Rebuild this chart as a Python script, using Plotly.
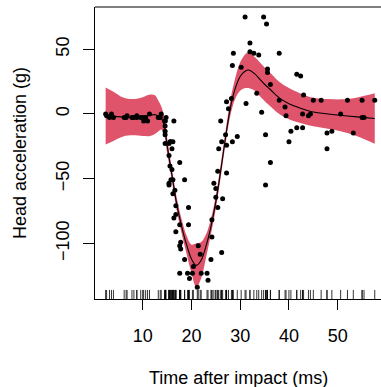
import plotly.graph_objects as go

times = [2.4, 2.6, 3.2, 3.6, 4.0, 6.2, 6.6, 6.8, 7.8, 8.2, 8.8, 8.8, 9.6, 10.0, 10.2, 10.6, 11.0, 11.4,
         13.2, 13.6, 13.8, 14.6, 14.6, 14.6, 14.6, 14.6, 14.6, 14.8, 15.4, 15.4, 15.4, 15.4, 15.6, 15.6,
         15.8, 15.8, 16.0, 16.0, 16.2, 16.2, 16.2, 16.4, 16.4, 16.6, 16.8, 16.8, 16.8, 17.6, 17.6, 17.6,
         17.6, 17.8, 17.8, 18.6, 18.6, 19.2, 19.4, 19.4, 19.6, 20.2, 20.4, 21.2, 21.4, 21.8, 22.0, 23.2,
         23.4, 24.0, 24.2, 24.2, 24.6, 25.0, 25.0, 25.4, 25.4, 25.6, 26.0, 26.2, 26.2, 26.4, 27.0, 27.2,
         27.2, 27.2, 27.6, 28.2, 28.4, 28.4, 28.6, 29.4, 30.2, 31.0, 31.2, 32.0, 32.0, 32.8, 33.4, 33.8,
         34.4, 34.8, 35.2, 35.2, 35.4, 35.6, 35.6, 36.2, 36.2, 38.0, 38.0, 39.2, 39.4, 40.0, 40.4, 41.6,
         41.6, 42.4, 42.8, 42.8, 43.0, 44.0, 44.4, 45.0, 46.6, 47.8, 47.8, 48.8, 50.6, 52.0, 53.2, 55.0,
         55.0, 55.4, 57.6]
accel = [0.0, -1.3, -2.7, 0.0, -2.7, -2.7, -2.7, -1.3, -2.7, -2.7, -1.3, -2.7, -2.7, -2.7, -5.4, -2.7,
         -5.4, 0.0, -2.7, -2.7, 0.0, -13.3, -5.4, -5.4, -9.3, -16.0, -22.8, -2.7, -22.8, -32.1, -53.5,
         -54.9, -40.2, -21.5, -21.5, -50.8, -42.9, -26.8, -21.5, -50.8, -61.7, -5.4, -80.4, -59.0, -71.0,
         -91.1, -77.7, -37.5, -85.6, -123.1, -101.9, -99.1, -104.4, -112.5, -50.8, -123.1, -85.6, -72.3,
         -127.2, -123.1, -117.9, -134.0, -101.9, -108.4, -123.1, -123.1, -128.5, -112.5, -95.1, -81.8,
         -53.5, -64.4, -57.6, -72.3, -44.3, -26.8, -5.4, -107.1, -21.5, -65.6, -16.0, -45.6, -24.2, 9.5,
         4.0, 12.0, -21.5, 37.5, 46.9, -17.4, 36.2, 75.0, 8.1, 54.9, 48.2, 46.9, 16.0, 45.6, 1.3, 75.0,
         -16.0, -54.9, 69.6, 34.8, 32.1, -37.5, 22.8, 46.9, 10.7, 5.4, -1.3, -21.5, -13.3, 30.8, -10.7,
         29.4, 0.0, -10.7, 14.7, -1.3, 0.0, 10.7, 10.7, -26.8, -14.7, -13.3, 0.0, 10.7, -14.7, -2.7, 10.7,
         -2.7, 10.7]

# Smooth fit and band half-width
fit_x = [2.4, 4.0, 6.0, 8.0, 10.0, 11.5, 12.5, 13.2, 13.8, 14.4, 15.0, 15.6, 16.2, 17.0, 18.0, 19.0,
         20.0, 21.0, 22.0, 23.0, 24.0, 25.0, 26.0, 27.0, 28.0, 29.0, 30.0, 31.0, 31.7, 33.0, 34.0, 35.0,
         36.0, 38.0, 40.0, 42.0, 45.0, 48.0, 51.0, 54.0, 57.6]
fit_y = [-1.5, -1.8, -2.3, -2.5, -2.0, -1.0, -0.5, -1.5, -3.0, -9.0, -24.0, -38.0, -52.0, -70.0, -87.0,
         -101.0, -112.0, -117.0, -113.0, -102.0, -87.0, -68.0, -44.0, -18.0, 5.0, 20.0, 29.0, 33.0, 34.0,
         31.0, 27.0, 23.0, 19.5, 12.5, 8.0, 5.0, 1.5, 0.0, -1.2, -2.2, -3.5]
half_w = [22, 19, 15, 14, 15, 16, 15, 12, 9, 7, 6, 5, 5, 5, 5.5, 7, 11, 17, 14, 9, 6, 5, 5, 5, 6, 8,
          11, 13, 14, 13, 13, 13, 13, 12.5, 12, 11.5, 11, 11.5, 12.5, 15, 19.5]

upper = [f + h for f, h in zip(fit_y, half_w)]
lower = [f - h for f, h in zip(fit_y, half_w)]

FONT = "Liberation Sans, Arial, Helvetica, sans-serif"
BAND = "#DF536B"

fig = go.Figure()
fig.add_trace(go.Scatter(x=fit_x, y=upper, mode="lines", line=dict(width=0, shape="spline"),
                         hoverinfo="skip", showlegend=False))
fig.add_trace(go.Scatter(x=fit_x, y=lower, mode="lines", line=dict(width=0, shape="spline"),
                         fill="tonexty", fillcolor=BAND, hoverinfo="skip", showlegend=False))
fig.add_trace(go.Scatter(x=times, y=accel, mode="markers",
                         marker=dict(color="black", size=5, line=dict(width=0)), showlegend=False))
fig.add_trace(go.Scatter(x=fit_x, y=fit_y, mode="lines", line=dict(color="black", width=1.1, shape="spline"),
                         showlegend=False))

shapes = []
for t in times:
    shapes.append(dict(type="line", xref="x", yref="y domain", x0=t, x1=t, y0=0, y1=0.031,
                       line=dict(color="black", width=0.8)))
shapes.append(dict(type="line", xref="paper", yref="paper", x0=0, x1=1, y0=1, y1=1,
                   line=dict(color="black", width=1)))
fig.update_layout(shapes=shapes)

fig.update_layout(
    width=381, height=387,
    margin=dict(l=95, r=0, t=7, b=88),
    paper_bgcolor="white", plot_bgcolor="white",
    font=dict(family=FONT, size=18, color="black"),
    xaxis=dict(range=[0.22, 58.88], tickvals=[10, 20, 30, 40, 50], ticks="outside", ticklen=10,
               tickcolor="black", showline=True, linecolor="black", linewidth=1, mirror=False,
               showgrid=False, zeroline=False, ticklabelstandoff=10),
    yaxis=dict(range=[-143, 82.7], tickvals=[-100, -50, 0, 50], ticks="outside", ticklen=11,
               tickcolor="black", showline=True, linecolor="black", linewidth=1, mirror=False,
               showgrid=False, zeroline=False, tickangle=-90, ticklabelstandoff=7),
    annotations=[
        dict(text="Time after impact (ms)", xref="paper", yref="paper", x=0.5, y=-0.27,
             xanchor="center", yanchor="middle", showarrow=False, font=dict(size=18)),
        dict(text="Head acceleration (g)", xref="paper", yref="paper", x=-0.262, y=0.5,
             xanchor="center", yanchor="middle", textangle=-90, showarrow=False, font=dict(size=18)),
    ],
)

fig.write_html("out.html")
